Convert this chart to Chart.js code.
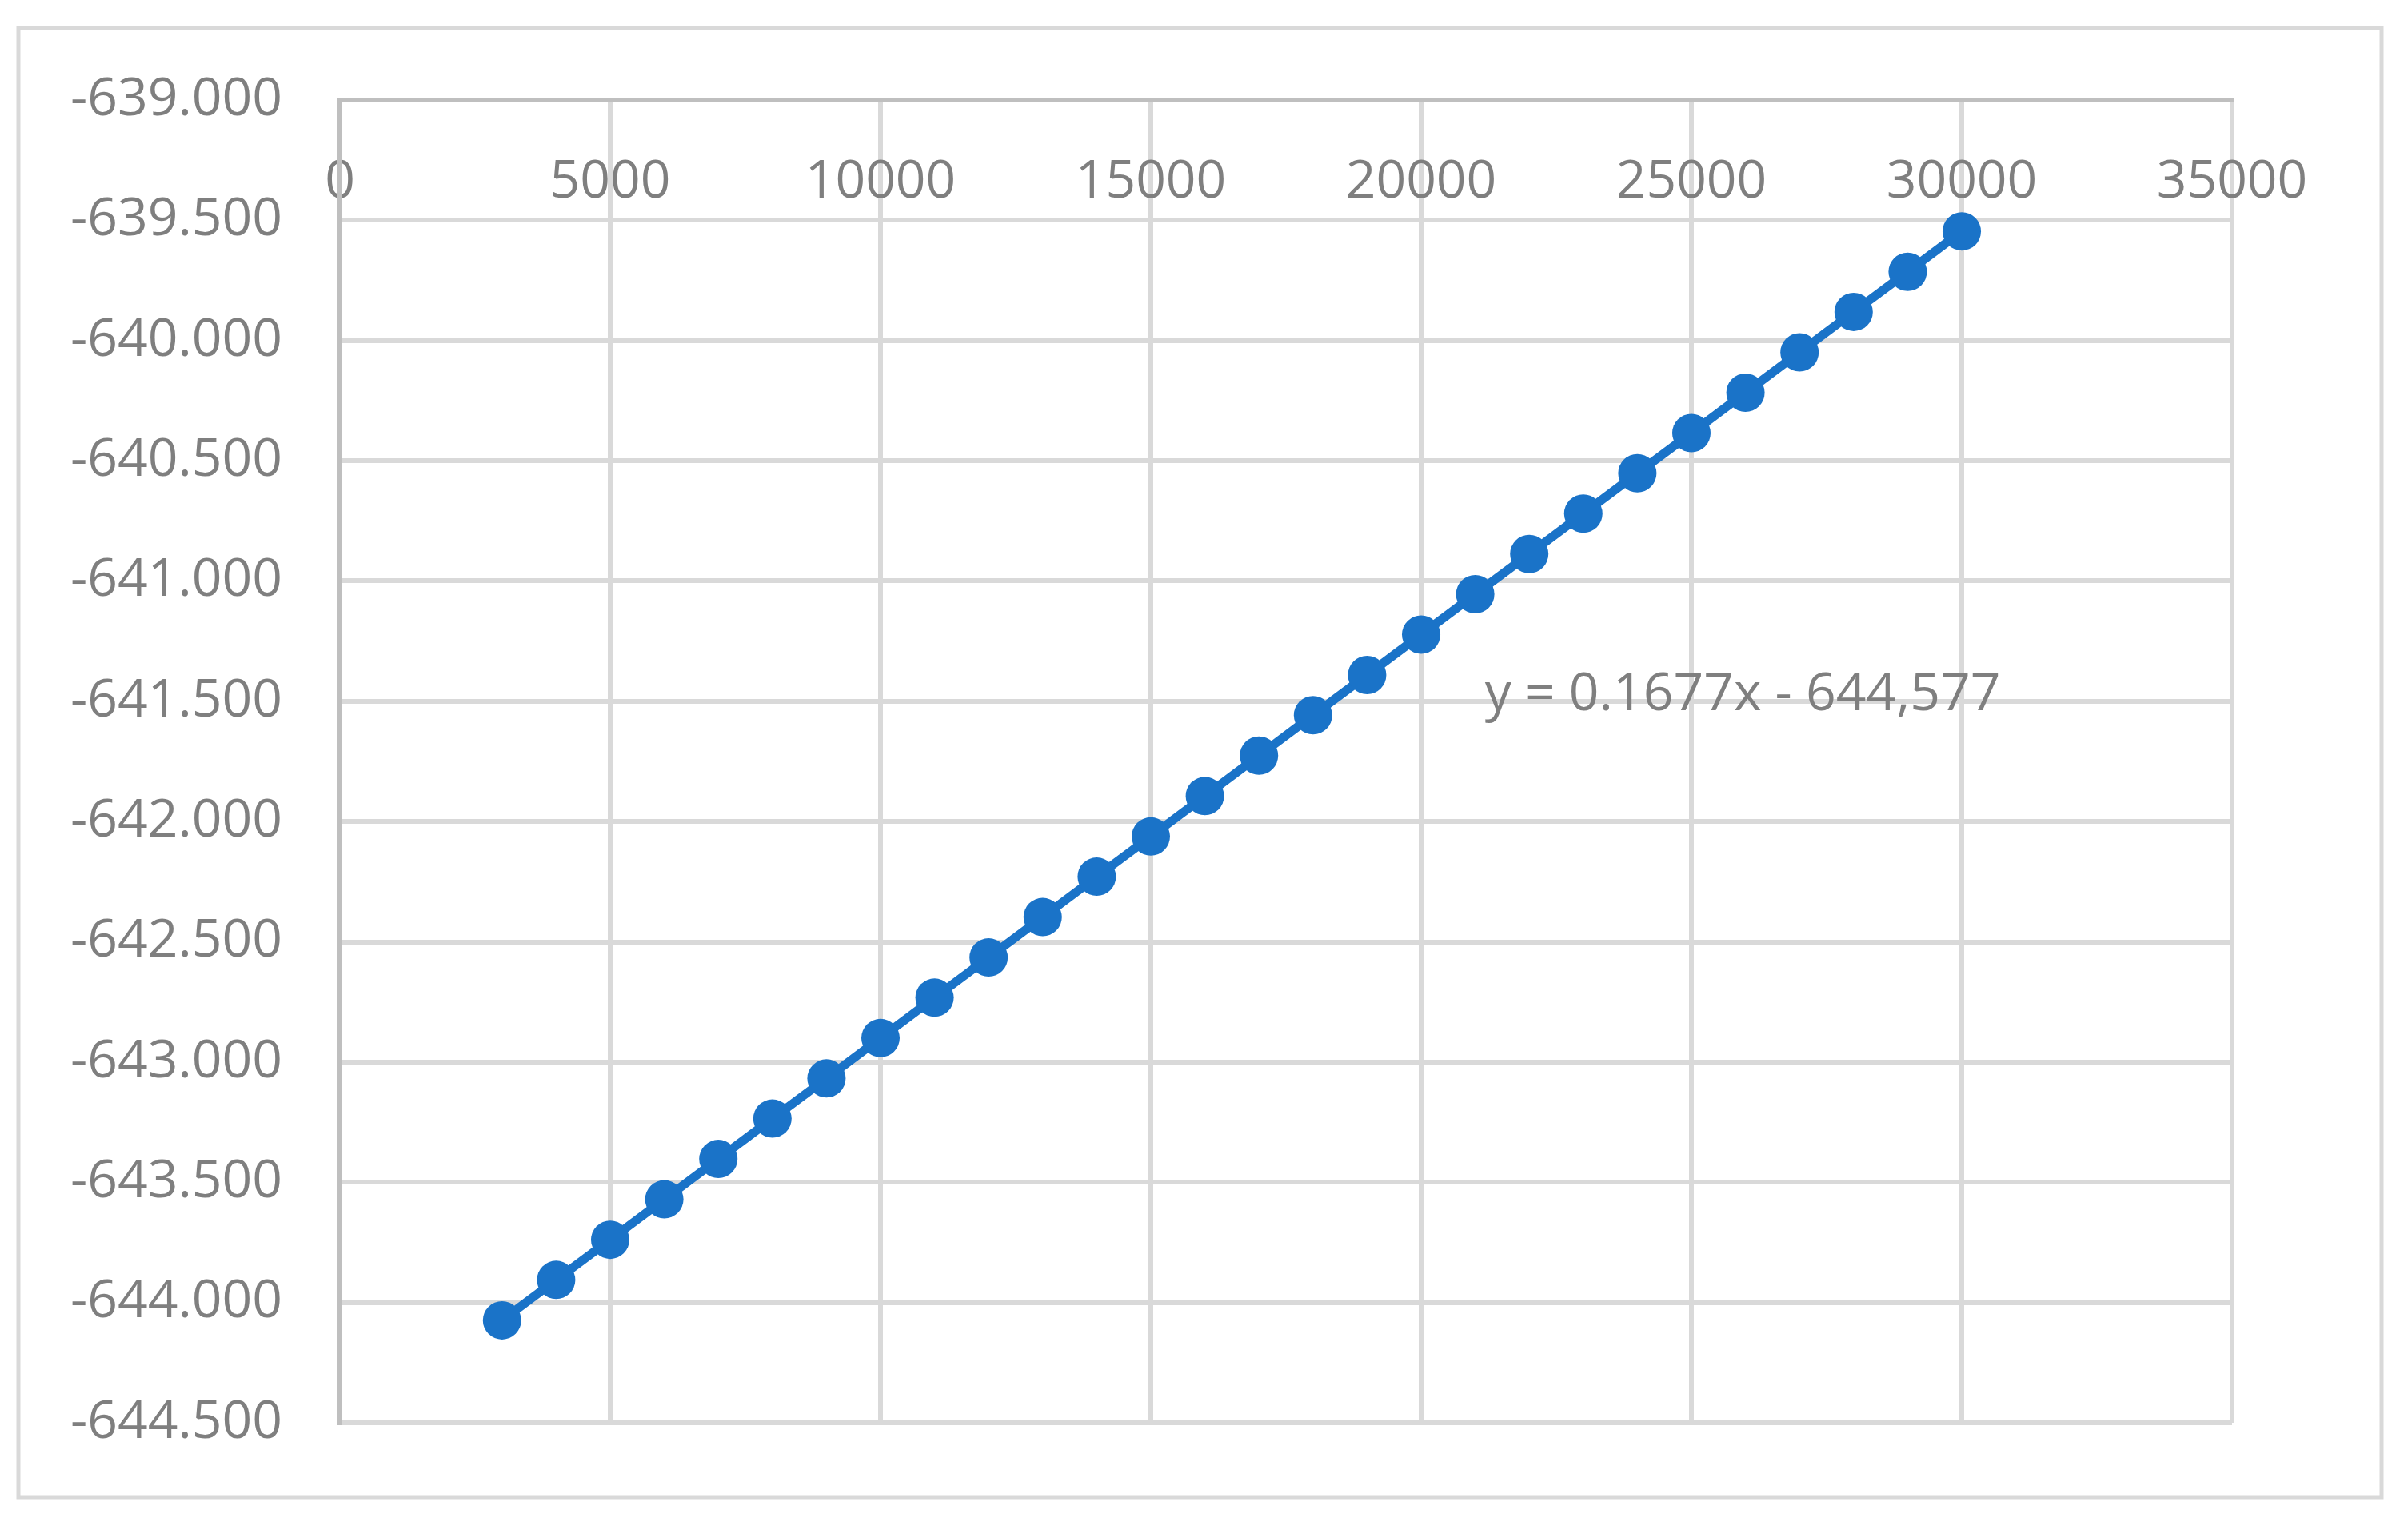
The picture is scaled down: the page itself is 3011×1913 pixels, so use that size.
<!DOCTYPE html>
<html lang="en">

<head>
  <meta charset="UTF-8">
  <title>Linha de tendência</title>
  <style>
    body { margin: 0; background: #fff; }
  </style>
</head>

<body>
  <canvas id="myChart" width="3011" height="1913"></canvas>
</body>

</html>
<script src="https://cdn.jsdelivr.net/npm/chart.js"></script>

<script>
  // dados
  var valoresX = [3000, 4000, 5000, 6000, 7000, 8000, 9000, 10000, 11000, 12000, 13000, 14000, 15000, 16000,
    17000, 18000, 19000, 20000, 21000, 22000, 23000, 24000, 25000, 26000, 27000, 28000, 29000, 30000];
  var valoresY = [-644.074, -643.906, -643.739, -643.571, -643.403, -643.235, -643.068, -642.900, -642.732,
    -642.565, -642.397, -642.229, -642.062, -641.894, -641.726, -641.558, -641.391, -641.223, -641.055,
    -640.888, -640.720, -640.552, -640.385, -640.217, -640.049, -639.881, -639.714, -639.546];
  var ticksX = [0, 5000, 10000, 15000, 20000, 25000, 30000, 35000];
  var ticksY = [-644.5, -644, -643.5, -643, -642.5, -642, -641.5, -641, -640.5, -640, -639.5, -639];
  var equacao = 'y = 0.1677x - 644,577';
  var posEquacao = { x: 21180, y: -641.475 };

  var cinzaTexto = '#7f7f7f';
  var fonte = { family: '"Open Sans", sans-serif', size: 66 };

  var pontos = [];
  for (var i = 0; i < valoresX.length; i++) {
    pontos.push({ x: valoresX[i], y: valoresY[i] });
  }

  const moldura = {
    id: 'moldura',
    beforeDraw(chart) {
      const c = chart.ctx;
      c.save();
      c.fillStyle = '#fff';
      c.fillRect(0, 0, chart.width, chart.height);
      c.strokeStyle = '#d9d9d9';
      c.lineWidth = 5;
      c.strokeRect(23, 35, 2955, 1837);
      c.restore();
    },
    afterDraw(chart) {
      const c = chart.ctx;
      c.save();
      c.font = fonte.size + 'px ' + fonte.family;
      c.fillStyle = cinzaTexto;
      c.textAlign = 'left';
      c.textBaseline = 'middle';
      c.fillText(equacao, chart.scales.x.getPixelForValue(posEquacao.x), chart.scales.y.getPixelForValue(posEquacao.y));
      c.restore();
    }
  };

  const ctx = document.getElementById('myChart');
  new Chart(ctx, {
    type: 'scatter',
    data: {
      datasets: [{
        data: pontos,
        showLine: true,
        borderColor: '#1a73c8',
        borderWidth: 11,
        backgroundColor: '#1a73c8',
        pointRadius: 24,
        pointBorderWidth: 0,
        pointHoverRadius: 24
      }]
    },
    options: {
      responsive: false,
      animation: false,
      layout: { padding: { left: 0, top: 125, right: 220, bottom: 134 } },
      plugins: { legend: { display: false }, tooltip: { enabled: false } },
      scales: {
        x: {
          type: 'linear',
          position: 'top',
          min: 0,
          max: 35000,
          afterFit(scale) { scale.height = 0; },
          afterBuildTicks(scale) { scale.ticks = ticksX.map(v => ({ value: v })); },
          grid: { color: '#d9d9d9', lineWidth: 6, drawTicks: false },
          border: { color: '#bfbfbf', width: 6 },
          ticks: {
            // rótulos dentro da área, logo abaixo do eixo (como no Excel)
            color: cinzaTexto, font: fonte, mirror: true, padding: 64, autoSkip: false, maxRotation: 0,
            callback: v => String(v)
          }
        },
        y: {
          min: -644.5,
          max: -639,
          afterFit(scale) { scale.width = 425; },
          afterBuildTicks(scale) { scale.ticks = ticksY.map(v => ({ value: v })); },
          grid: { color: '#d9d9d9', lineWidth: 6, drawTicks: false },
          border: { color: '#bfbfbf', width: 6 },
          ticks: {
            color: cinzaTexto, font: fonte, padding: 72, autoSkip: false,
            callback: v => v.toFixed(3)
          }
        }
      }
    },
    plugins: [moldura]
  });
</script>
